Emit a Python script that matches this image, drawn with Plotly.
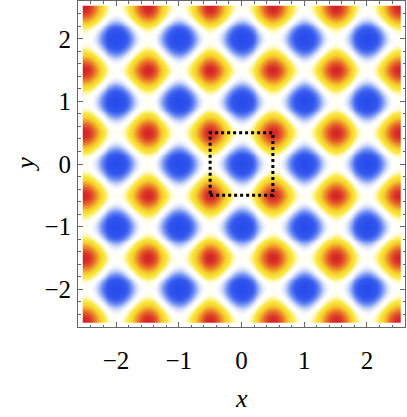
import numpy as np
import plotly.graph_objects as go

wave = [1.0, 0.924, 0.707, 0.383, 0.0, -0.383, -0.707, -0.924,
        -1.0, -0.924, -0.707, -0.383, 0.0, 0.383, 0.707, 0.924]
steps_per_unit = 16
half_width = 2.5

tick_vals = [-2, -1, 0, 1, 2]
box_x = [-0.5, 0.5, 0.5, -0.5, -0.5]
box_y = [-0.5, -0.5, 0.5, 0.5, -0.5]

# blue -> white -> yellow -> red, like Mathematica's TemperatureMap
temperature = [
    [0.00, "rgb(40,75,235)"],
    [0.12, "rgb(52,88,238)"],
    [0.20, "rgb(90,122,242)"],
    [0.27, "rgb(140,166,245)"],
    [0.34, "rgb(200,212,249)"],
    [0.41, "rgb(240,243,252)"],
    [0.47, "rgb(255,255,255)"],
    [0.53, "rgb(255,255,240)"],
    [0.59, "rgb(254,246,170)"],
    [0.66, "rgb(250,232,60)"],
    [0.75, "rgb(247,212,48)"],
    [0.84, "rgb(240,155,40)"],
    [0.92, "rgb(228,92,40)"],
    [0.98, "rgb(215,45,40)"],
    [1.00, "rgb(212,35,40)"],
]

n = int(half_width * steps_per_unit)
idx = np.arange(-n, n + 1)
grid = idx / steps_per_unit
prof = np.array([wave[k % steps_per_unit] for k in idx])
z = -(prof[None, :] + prof[:, None]) / 2

fig = go.Figure()
fig.add_trace(go.Heatmap(x=grid, y=grid, z=z, zmin=-1, zmax=1,
                         colorscale=temperature, zsmooth="best",
                         showscale=False, hoverinfo="skip"))
fig.add_trace(go.Scatter(x=box_x, y=box_y, mode="lines",
                         line=dict(color="black", width=3, dash="3px,3px"),
                         hoverinfo="skip", showlegend=False))

tick_font = dict(family="Liberation Serif", size=25, color="black")
axis_common = dict(
    range=[-2.607, 2.607], tickvals=tick_vals,
    showline=True, mirror="allticks", linecolor="#666", linewidth=1,
    ticks="inside", ticklen=5, tickwidth=1, tickcolor="#666",
    minor=dict(ticks="inside", ticklen=2.5, dtick=0.2, tick0=0, tickcolor="#666"),
    showgrid=False, zeroline=False, tickfont=tick_font,
)
fig.update_xaxes(**axis_common, ticklabelstandoff=11)
fig.update_yaxes(**axis_common, ticklabelstandoff=1)

label_font = dict(family="Liberation Serif", size=26, color="black")
fig.add_annotation(text="<i>x</i>", xref="paper", yref="paper", x=0.5, y=-0.218,
                   showarrow=False, font=label_font, xanchor="center", yanchor="middle")
fig.add_annotation(text="<i>y</i>", xref="paper", yref="paper", x=-0.163, y=0.5,
                   showarrow=False, font=label_font, textangle=-90,
                   xanchor="center", yanchor="middle")

fig.update_layout(
    width=407, height=417,
    margin=dict(l=78, r=2, t=1, b=90),
    paper_bgcolor="white", plot_bgcolor="white",
    showlegend=False,
)

fig.write_html("out.html", config={"displayModeBar": False},
               post_script="document.body.style.margin='0';")
